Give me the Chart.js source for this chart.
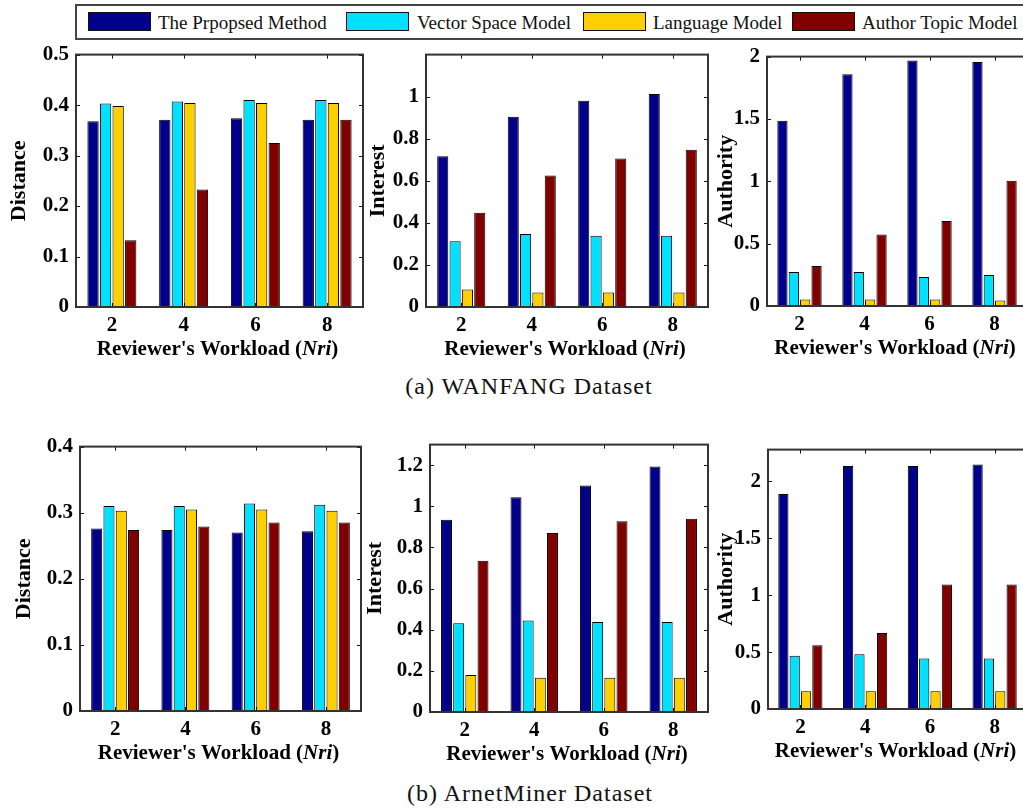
<!DOCTYPE html>
<html>
<head>
<meta charset="utf-8">
<script src="https://cdn.jsdelivr.net/npm/chart.js@4.4.1/dist/chart.umd.min.js"></script>
<style>
  html, body { margin: 0; padding: 0; width: 1023px; height: 808px; overflow: hidden; background: #fff; }
  canvas { position: absolute; }
  #legend { position: absolute; left: 75px; top: 4px; width: 1000px; height: 32px; border: 2px solid #444; }
  .sw { position: absolute; top: 6px; width: 61px; height: 17px; border: 1px solid #111; }
  .lt { position: absolute; top: 1px; font: 19px "Liberation Serif", serif; line-height: 32px; color: #111; white-space: nowrap; }
  .cap { position: absolute; width: 400px; text-align: center; font: 24px "Liberation Serif", serif; letter-spacing: 1px; color: #111; }
</style>
</head>
<body>
<div id="legend"></div>
<div class="cap" style="left:329px; top:373px;">(a) WANFANG Dataset</div>
<div class="cap" style="left:330px; top:780px;">(b) ArnetMiner Dataset</div>
<canvas id="c1"></canvas>
<canvas id="c2"></canvas>
<canvas id="c3"></canvas>
<canvas id="c4"></canvas>
<canvas id="c5"></canvas>
<canvas id="c6"></canvas>
<script>
// categories and series
const workloads = ['2', '4', '6', '8'];
const methods = ['The Prpopsed Method', 'Vector Space Model', 'Language Model', 'Author Topic Model'];
const methodColors = ['#00008B', '#00E0FF', '#FFD000', '#800000'];

// (a) WANFANG, one row per method
const wanfangDistance = [
  [0.368, 0.371, 0.374, 0.371],
  [0.403, 0.407, 0.410, 0.410],
  [0.398, 0.404, 0.404, 0.404],
  [0.132, 0.233, 0.325, 0.371]
];
const wanfangInterest = [
  [0.717, 0.904, 0.981, 1.013],
  [0.313, 0.347, 0.339, 0.339],
  [0.083, 0.069, 0.069, 0.069],
  [0.448, 0.625, 0.706, 0.748]
];
const wanfangAuthority = [
  [1.485, 1.859, 1.969, 1.956],
  [0.273, 0.273, 0.233, 0.249],
  [0.053, 0.053, 0.053, 0.045],
  [0.320, 0.573, 0.681, 1.005]
];

// (b) ArnetMiner
const arnetDistance = [
  [0.276, 0.274, 0.270, 0.272],
  [0.310, 0.310, 0.314, 0.312],
  [0.303, 0.305, 0.305, 0.303],
  [0.274, 0.279, 0.285, 0.285]
];
const arnetInterest = [
  [0.935, 1.044, 1.101, 1.193],
  [0.431, 0.445, 0.437, 0.437],
  [0.180, 0.166, 0.166, 0.166],
  [0.735, 0.870, 0.927, 0.940]
];
const arnetAuthority = [
  [1.890, 2.136, 2.136, 2.150],
  [0.469, 0.481, 0.443, 0.443],
  [0.155, 0.155, 0.155, 0.155],
  [0.561, 0.667, 1.094, 1.094]
];

// tick labels
const distTicksA = [0, 0.1, 0.2, 0.3, 0.4, 0.5];
const interestTicksA = [0, 0.2, 0.4, 0.6, 0.8, 1];
const authorityTicks = [0, 0.5, 1, 1.5, 2];
const distTicksB = [0, 0.1, 0.2, 0.3, 0.4];
const interestTicksB = [0, 0.2, 0.4, 0.6, 0.8, 1, 1.2];

const serif = '"Liberation Serif", "Times New Roman", serif';
const PAD_TOP = 14, PAD_RIGHT = 8, X_H = 62;

// legend (html)
const legend = document.getElementById('legend');
const swLeft = [11, 269, 506, 715];
const txtLeft = [81, 340, 576, 785];
methods.forEach((m, i) => {
  const s = document.createElement('div');
  s.className = 'sw';
  s.style.left = swLeft[i] + 'px';
  s.style.background = methodColors[i];
  legend.appendChild(s);
  const t = document.createElement('div');
  t.className = 'lt';
  t.style.left = txtLeft[i] + 'px';
  t.textContent = m;
  legend.appendChild(t);
});

// matlab-ish frame, inner ticks and the x title with italic Nri
const framePlugin = {
  id: 'frame',
  beforeDatasetsDraw(chart) {
    const { ctx, chartArea: a, scales: { x, y } } = chart;
    ctx.save();
    ctx.strokeStyle = '#111';
    ctx.lineWidth = 1;
    ctx.beginPath();
    y.ticks.forEach(t => {
      const py = Math.round(y.getPixelForValue(t.value)) + 0.5;
      ctx.moveTo(a.left, py); ctx.lineTo(a.left + 4, py);
      ctx.moveTo(a.right, py); ctx.lineTo(a.right - 4, py);
    });
    x.ticks.forEach((t, i) => {
      const px = Math.round(x.getPixelForTick(i)) + 0.5;
      ctx.moveTo(px, a.bottom); ctx.lineTo(px, a.bottom - 4);
      ctx.moveTo(px, a.top); ctx.lineTo(px, a.top + 4);
    });
    ctx.stroke();
    ctx.restore();
  },
  afterDraw(chart) {
    const { ctx, chartArea: a } = chart;
    ctx.save();
    ctx.strokeStyle = '#333';
    ctx.lineWidth = 2;
    ctx.strokeRect(a.left, a.top, a.right - a.left, a.bottom - a.top);

    const parts = [["Reviewer's Workload (", 'bold'], ['Nri', 'italic bold'], [')', 'bold']];
    let total = 0;
    parts.forEach(p => { ctx.font = p[1] + ' 21px ' + serif; p.push(ctx.measureText(p[0]).width); total += p[2]; });
    let px = (a.left + a.right) / 2 - 2 - total / 2;
    ctx.fillStyle = '#000';
    ctx.textBaseline = 'middle';
    ctx.textAlign = 'left';
    parts.forEach(p => { ctx.font = p[1] + ' 21px ' + serif; ctx.fillText(p[0], px, a.bottom + 43); px += p[2]; });
    ctx.restore();
  }
};

function makePanel(id, values, yTitle, yMax, yTicks, box) {
  const yW = box.left - box.canvasLeft;
  const cv = document.getElementById(id);
  cv.width = yW + (box.right - box.left) + PAD_RIGHT;
  cv.height = PAD_TOP + (box.bottom - box.top) + X_H;
  cv.style.left = box.canvasLeft + 'px';
  cv.style.top = (box.top - PAD_TOP) + 'px';

  new Chart(cv.getContext('2d'), {
    type: 'bar',
    data: {
      labels: workloads,
      datasets: methods.map((m, i) => ({
        label: m,
        data: values[i],
        backgroundColor: methodColors[i],
        borderColor: '#000',
        borderWidth: 1
      }))
    },
    options: {
      responsive: false,
      animation: false,
      devicePixelRatio: 1,
      layout: { padding: { top: PAD_TOP, right: PAD_RIGHT, left: 0, bottom: 0 } },
      datasets: { bar: { categoryPercentage: 0.7, barPercentage: 0.9 } },
      plugins: { legend: { display: false }, tooltip: { enabled: false } },
      scales: {
        x: {
          grid: { display: false, drawTicks: false },
          border: { display: false },
          ticks: { color: '#000', padding: 6, maxRotation: 0, font: { family: serif, size: 21, weight: 'bold' } },
          afterFit: s => { s.height = X_H; }
        },
        y: {
          min: 0,
          max: yMax,
          grid: { display: false, drawTicks: false },
          border: { display: false },
          afterBuildTicks: s => { s.ticks = yTicks.map(v => ({ value: v })); },
          ticks: { color: '#000', padding: 7, font: { family: serif, size: 21, weight: 'bold' }, callback: v => String(v) },
          title: { display: true, text: yTitle, color: '#000', padding: 0, font: { family: serif, size: 22, weight: 'bold' } },
          afterFit: s => { s.width = yW; }
        }
      }
    },
    plugins: [framePlugin]
  });
}

makePanel('c1', wanfangDistance, 'Distance', 0.5, distTicksA, { canvasLeft: 6, left: 76, top: 49, right: 363, bottom: 307 });
makePanel('c2', wanfangInterest, 'Interest', 1.2, interestTicksA, { canvasLeft: 365, left: 426, top: 49, right: 708, bottom: 307 });
makePanel('c3', wanfangAuthority, 'Authority', 2, authorityTicks, { canvasLeft: 713, left: 767, top: 51, right: 1027, bottom: 306 });
makePanel('c4', arnetDistance, 'Distance', 0.4, distTicksB, { canvasLeft: 11, left: 80, top: 441, right: 361, bottom: 711 });
makePanel('c5', arnetInterest, 'Interest', 1.3, interestTicksB, { canvasLeft: 362, left: 430, top: 439, right: 708, bottom: 712 });
makePanel('c6', arnetAuthority, 'Authority', 2.28, authorityTicks, { canvasLeft: 713, left: 768, top: 444, right: 1027, bottom: 709 });
</script>
</body>
</html>
